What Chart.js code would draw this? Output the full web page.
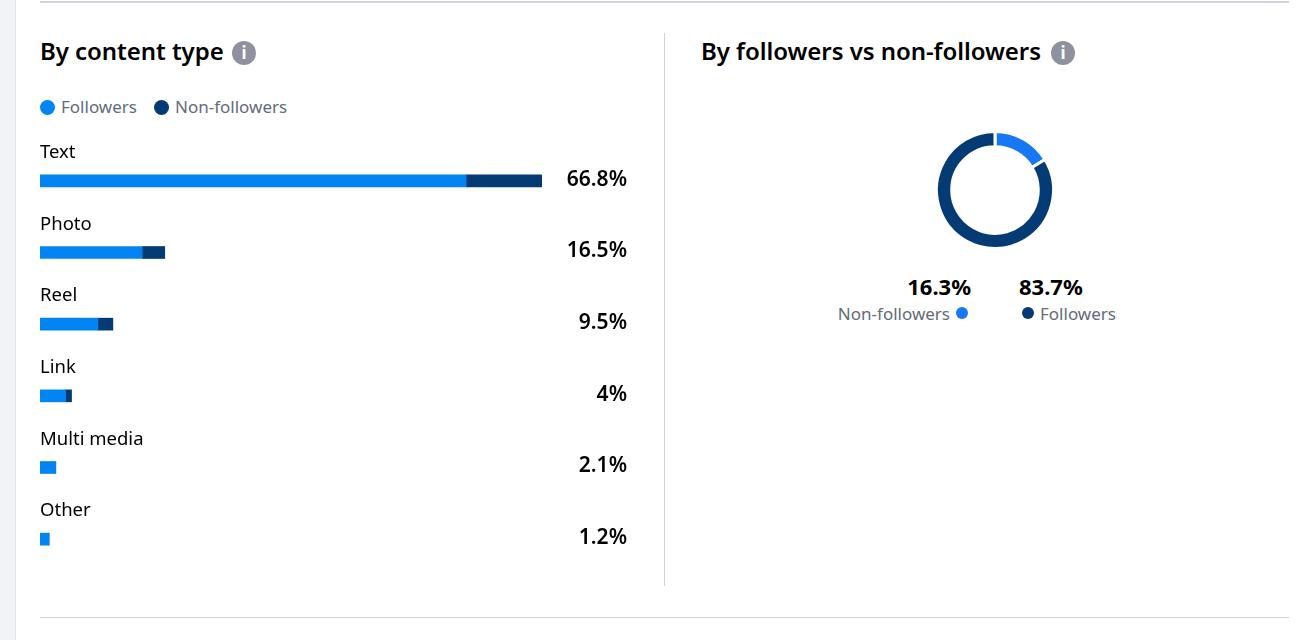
<!DOCTYPE html>
<html><head><meta charset="utf-8">
<script src="https://cdn.jsdelivr.net/npm/chart.js@4"></script>
<style>
html,body{margin:0;padding:0;width:1312px;height:640px;overflow:hidden;background:#fff;font-family:"Noto Sans",sans-serif}
.a{position:absolute;white-space:nowrap;line-height:1}
.strip{left:0;top:0;width:15px;height:640px;background:#f2f3f7;border-right:1px solid #e4e5ea}
.rule{background:#d0d3d9}
h2{margin:0;font-size:24px;font-weight:600;color:#000;letter-spacing:-.05px}
.info{width:24px;height:24px;border-radius:50%;background:#8e929f;color:#fff;font:bold 17px/24px "Noto Sans";text-align:center}
.dot{width:15px;height:15px;border-radius:50%}
.lg{font-size:17px;color:#626b7a}
.pct{font-size:22px;font-weight:700;color:#000}
canvas{position:absolute;display:block}
</style></head><body>
<div class="a strip"></div>
<div class="a rule" style="left:40px;top:1px;width:1249px;height:2px"></div>
<div class="a rule" style="left:40px;top:617px;width:1249px;height:1px"></div>
<div class="a rule" style="left:664px;top:33px;width:1px;height:553px"></div>
<h2 class="a" id="t1" style="left:40px;top:39px"></h2>
<div class="a info" style="left:232px;top:41px">i</div>
<h2 class="a" id="t2" style="left:701px;top:39px"></h2>
<div class="a info" style="left:1051px;top:41px">i</div>
<div class="a dot" style="left:40px;top:100px;background:#0285f2"></div>
<div class="a lg" id="l1" style="left:61px;top:98px"></div>
<div class="a dot" style="left:154px;top:100px;background:#053b75"></div>
<div class="a lg" id="l2" style="left:175px;top:98px"></div>
<div class="a pct" id="p1" style="right:341px;top:275px"></div>
<div class="a pct" id="p2" style="left:1019px;top:275px"></div>
<div class="a lg" id="l3" style="right:362px;top:305px"></div>
<div class="a dot" style="left:956px;top:307px;width:12px;height:12px;background:#1877f2"></div>
<div class="a dot" style="left:1022px;top:307px;width:12px;height:12px;background:#053b75"></div>
<div class="a lg" id="l4" style="left:1040px;top:305px"></div>
<canvas id="bars" style="left:40px;top:125px"></canvas>
<canvas id="donut" style="left:925px;top:120px"></canvas>
<script>
const titles = ["By content type", "By followers vs non-followers"];
const seriesNames = ["Followers", "Non-followers"];
const categories = ["Text", "Photo", "Reel", "Link", "Multi media", "Other"];
const followers = [56.7, 13.6, 7.7, 3.4, 2.1, 1.2];
const nonFollowers = [10.1, 3.0, 2.0, 0.8, 0, 0];
const totalLabels = ["66.8%", "16.5%", "9.5%", "4%", "2.1%", "1.2%"];
const shareLabels = ["Non-followers", "Followers"];
const shareValues = [16.3, 83.7];

t1.textContent = titles[0]; t2.textContent = titles[1];
l1.textContent = seriesNames[0]; l2.textContent = seriesNames[1];
l3.textContent = shareLabels[0]; l4.textContent = shareLabels[1];
p1.textContent = shareValues[0] + "%"; p2.textContent = shareValues[1] + "%";

Chart.defaults.font.family = '"Noto Sans", sans-serif';

const rowLabelsPlugin = {
  id: "rowLabels",
  afterDatasetsDraw(chart) {
    const { ctx, scales: { y }, chartArea } = chart;
    ctx.save();
    ctx.textBaseline = "middle";
    ctx.fillStyle = "#000";
    ctx.font = '18.5px "Noto Sans"';
    ctx.textAlign = "left";
    categories.forEach((c, i) => ctx.fillText(c, chartArea.left, y.getPixelForValue(i) - 28));
    ctx.font = '600 21px "Noto Sans"';
    ctx.textAlign = "right";
    totalLabels.forEach((t, i) => ctx.fillText(t, chartArea.right + 85, y.getPixelForValue(i) - 1));
    ctx.restore();
  }
};

const barCanvas = document.getElementById("bars");
barCanvas.width = 587; barCanvas.height = 450;
new Chart(barCanvas, {
  type: "bar",
  plugins: [rowLabelsPlugin],
  data: {
    labels: categories,
    datasets: [
      { label: seriesNames[0], data: followers, backgroundColor: "#0285f2", barThickness: 12 },
      { label: seriesNames[1], data: nonFollowers, backgroundColor: "#053b75", barThickness: 12 }
    ]
  },
  options: {
    indexAxis: "y", responsive: false, animation: false,
    layout: { padding: { right: 85, left: 0, top: 20, bottom: 0 } },
    plugins: { legend: { display: false }, tooltip: { enabled: false } },
    scales: {
      x: { stacked: true, display: false, min: 0, max: 66.8 },
      y: { stacked: true, display: false }
    }
  }
});

const donutCanvas = document.getElementById("donut");
donutCanvas.width = 140; donutCanvas.height = 140;
new Chart(donutCanvas, {
  type: "doughnut",
  data: {
    labels: shareLabels,
    datasets: [{ data: shareValues, backgroundColor: ["#1877f2", "#053b75"], borderColor: "#fff", borderWidth: 3 }]
  },
  options: {
    responsive: false, animation: false, cutout: "74%",
    radius: 58.5,
    plugins: { legend: { display: false }, tooltip: { enabled: false } }
  }
});
</script>
</body></html>
